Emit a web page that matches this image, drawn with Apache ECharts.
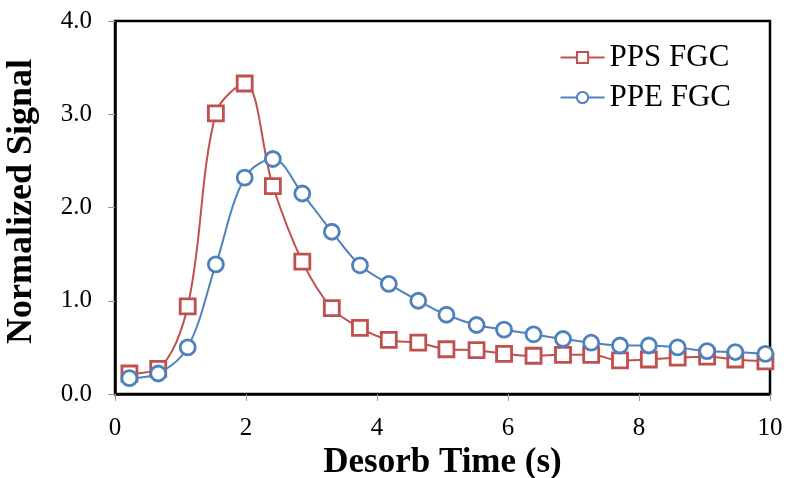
<!DOCTYPE html>
<html>
<head>
<meta charset="utf-8">
<script src="https://cdn.jsdelivr.net/npm/echarts@6/dist/echarts.min.js"></script>
<style>
  html, body { margin: 0; padding: 0; background: #fff; }
  #chart { width: 786px; height: 478px; }
</style>
</head>
<body>
<div id="chart"></div>
<script>
// desorb time (s) for each sample, shared by both series
const times = [0.22, 0.66, 1.11, 1.54, 1.98, 2.41, 2.86, 3.31, 3.74, 4.18, 4.63, 5.06,
  5.52, 5.94, 6.39, 6.84, 7.27, 7.71, 8.15, 8.59, 9.04, 9.47, 9.93]
const ppsSignal = [0.22, 0.27, 0.94, 3.01, 3.33, 2.23, 1.42, 0.92, 0.71, 0.58, 0.55, 0.48,
  0.47, 0.43, 0.41, 0.42, 0.42, 0.36, 0.37, 0.39, 0.40, 0.37, 0.35]
const ppeSignal = [0.17, 0.22, 0.50, 1.39, 2.32, 2.52, 2.15, 1.74, 1.38, 1.18, 1.00, 0.85,
  0.74, 0.69, 0.64, 0.59, 0.55, 0.52, 0.52, 0.50, 0.46, 0.45, 0.43]
const seriesNames = ['PPS FGC', 'PPE FGC']
const yTicks = ['0.0', '1.0', '2.0', '3.0', '4.0']

const RED = '#C0504D'
const BLUE = '#4F81BD'
const FONT = '"Liberation Serif", "Times New Roman", serif'

const chart = echarts.init(document.getElementById('chart'), null, { renderer: 'canvas' })

const pairs = vals => times.map((t, i) => [t, vals[i]])

const lineSeries = (name, vals, color, symbol) => ({
  name, type: 'line', data: pairs(vals), smooth: 0.35,
  symbol, symbolSize: 15,
  lineStyle: { color, width: 2 },
  itemStyle: { color: '#fff', borderColor: color, borderWidth: 2.8 },
  emphasis: { disabled: true },
})

chart.setOption({
  backgroundColor: '#fff',
  animation: false,
  grid: {
    left: 115, right: 16, top: 21, bottom: 84, outerBoundsMode: 'none', containLabel: false,
    show: true, borderColor: '#000', borderWidth: 2.5, backgroundColor: 'transparent',
  },
  legend: {
    right: 50, top: 37, orient: 'vertical', itemGap: 9, itemWidth: 44, itemHeight: 14,
    textStyle: { fontFamily: FONT, fontSize: 31, color: '#000' },
    data: seriesNames,
  },
  xAxis: {
    type: 'value', min: 0, max: 10, interval: 2,
    name: 'Desorb Time (s)', nameLocation: 'middle', nameGap: 49,
    nameTextStyle: { fontFamily: FONT, fontSize: 35, fontWeight: 'bold', color: '#000' },
    axisLine: { show: true, lineStyle: { color: '#000', width: 2.5 } },
    axisTick: { show: true, length: 7, lineStyle: { color: '#999' } },
    axisLabel: { fontFamily: FONT, fontSize: 25, color: '#000', margin: 22 },
    splitLine: { show: false },
  },
  yAxis: {
    type: 'value', min: 0, max: 4, interval: 1,
    name: 'Normalized Signal', nameLocation: 'middle', nameGap: 75,
    nameTextStyle: { fontFamily: FONT, fontSize: 36, fontWeight: 'bold', color: '#000', padding: [0, 0, 0, 12] },
    axisLine: { show: true, lineStyle: { color: '#000', width: 2.5 } },
    axisTick: { show: true, length: 7, lineStyle: { color: '#999' } },
    axisLabel: { fontFamily: FONT, fontSize: 25, color: '#000', margin: 23, formatter: v => yTicks[v] },
    splitLine: { show: false },
  },
  series: [
    lineSeries(seriesNames[0], ppsSignal, RED, 'rect'),
    lineSeries(seriesNames[1], ppeSignal, BLUE, 'circle'),
  ],
})
</script>
</body>
</html>
